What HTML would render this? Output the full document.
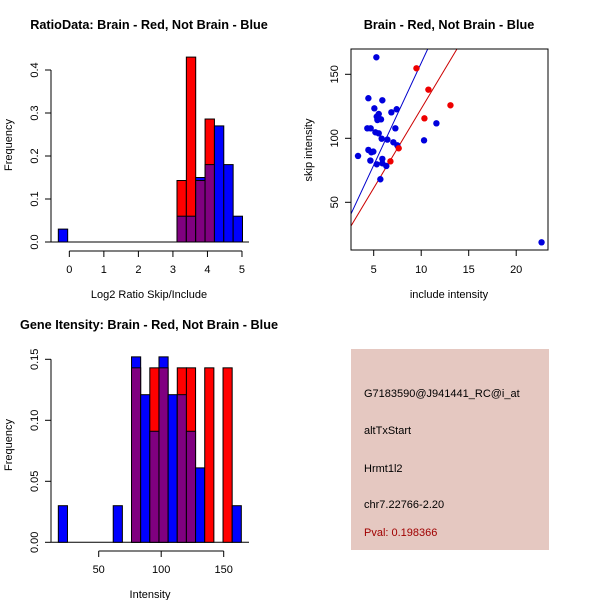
<!DOCTYPE html>
<html><head><meta charset="utf-8"><style>
html,body{margin:0;padding:0;background:#fff;}
svg{display:block;font-family:"Liberation Sans",sans-serif;}
</style></head><body>
<svg id="chart" width="600" height="600" viewBox="0 0 600 600" xmlns="http://www.w3.org/2000/svg">
<rect width="600" height="600" fill="#fff"/>
<text x="149" y="29" font-size="12.7" font-weight="bold" text-anchor="middle">RatioData: Brain - Red, Not Brain - Blue</text>
<text x="449" y="29" font-size="12.7" font-weight="bold" text-anchor="middle">Brain - Red, Not Brain - Blue</text>
<text x="149" y="329" font-size="12.7" font-weight="bold" text-anchor="middle">Gene Itensity: Brain - Red, Not Brain - Blue</text>
<g id="g1"></g>
<g id="g2"></g>
<g id="g3"></g>
<g font-size="11">
<rect x="351" y="349" width="198" height="201" fill="#e5c8c1"/>
<text x="364" y="397">G7183590@J941441_RC@i_at</text>
<text x="364" y="434">altTxStart</text>
<text x="364" y="472">Hrmt1l2</text>
<text x="364" y="508">chr7.22766-2.20</text>
<text x="364" y="536" fill="#a00000">Pval: 0.198366</text>
</g>
</svg>
<script>
// Ratio histogram data
const ratioBinStarts = [-0.319, 3.118, 3.389, 3.660, 3.931, 4.202, 4.473, 4.744];
const ratioBinWidth = 0.271;
const ratioBlue = [0.03, 0.06, 0.06, 0.15, 0.18, 0.27, 0.18, 0.06];
const ratioRed  = [0, 0.143, 0.43, 0.143, 0.286, 0, 0, 0];
const ratioXTicks = [0,1,2,3,4,5];
const ratioYTicks = [0.0,0.1,0.2,0.3,0.4];
// Scatter data
const blueX = [5.28,4.44,5.91,5.07,5.53,7.42,6.86,5.32,5.77,5.39,4.33,4.68,7.28,5.18,5.53,11.6,5.84,6.44,7.07,7.49,10.3,3.35,4.44,4.96,4.75,4.65,5.91,5.91,5.32,6.33,5.7,22.67];
const blueY = [163.3,131.3,129.7,123.4,119,122.7,120.3,116.9,114.8,114.3,107.8,107.8,107.8,104.7,103.9,111.7,99.7,99,96.9,94.5,98.4,86.2,90.9,89.6,89.1,82.6,83.9,80.5,79.7,78.4,68,18.75];
const redX = [9.5,10.76,13.08,10.34,7.63,6.76];
const redY = [154.7,138,125.8,115.6,92.2,82];
const blueSlope = 15.95, blueIntercept = -0.7;
const redSlope = 12.4, redIntercept = -0.9;
const scatterXTicks = [5,10,15,20];
const scatterYTicks = [50,100,150];
// Intensity histogram data
const intStart = 17.7, intBinWidth = 7.32;
const intBlue = [0.03,0,0,0,0,0,0.03,0,0.152,0.121,0.091,0.152,0.121,0.121,0.091,0.061,0,0,0,0.03];
const intRed  = [0,0,0,0,0,0,0,0,0.143,0,0.143,0.143,0,0.143,0.143,0,0.143,0,0.143,0];
const intXTicks = [50,100,150];
const intYTicks = ["0.00","0.05","0.10","0.15"];

const NS='http://www.w3.org/2000/svg';
function mk(parent, tag, attrs, text){
  const e=document.createElementNS(NS,tag);
  for(const k in attrs) e.setAttribute(k, attrs[k]);
  if(text!==undefined) e.textContent=text;
  parent.appendChild(e); return e;
}
function yLabel(g,x,y,t){
  const e=mk(g,'text',{x:x,y:y,'font-size':11,'text-anchor':'middle',transform:`rotate(-90 ${x} ${y})`},t);
  
  
}
function hist(g, starts, w, blue, red, sx, sy, y0){
  for(let i=0;i<starts.length;i++){
    const x0=sx(starts[i]), x1=sx(starts[i]+w);
    const b=blue[i], r=red[i];
    const mn=Math.min(b,r), mx=Math.max(b,r);
    if(mx<=0) continue;
    const col = b>=r ? '#0000ff' : '#ff0000';
    let e=mk(g,'rect',{x:x0,y:sy(mx),width:x1-x0,height:y0-sy(mx),fill:col,stroke:'#000','stroke-width':1});
    
    
    if(mn>0){
      e=mk(g,'rect',{x:x0,y:sy(mn),width:x1-x0,height:y0-sy(mn),fill:'#800080',stroke:'#000','stroke-width':1});
      
      
    }
  }
}
// Plot 1
(function(){
  const g=document.getElementById('g1');
  const sx=v=>69.33+v*34.53, y0=242, sy=v=>y0-v*430;
  mk(g,'line',{x1:51,y1:242,x2:249,y2:242,stroke:'#000'});
  hist(g, ratioBinStarts, ratioBinWidth, ratioBlue, ratioRed, sx, sy, y0);
  mk(g,'line',{x1:51,y1:sy(0),x2:51,y2:sy(0.4),stroke:'#000'});
  ratioYTicks.forEach(v=>{mk(g,'line',{x1:45,y1:sy(v),x2:51,y2:sy(v),stroke:'#000'});yLabel(g,38,sy(v),v.toFixed(1));});
  mk(g,'line',{x1:sx(0),y1:251,x2:sx(5),y2:251,stroke:'#000'});
  ratioXTicks.forEach(v=>{mk(g,'line',{x1:sx(v),y1:251,x2:sx(v),y2:257,stroke:'#000'});
    const t=mk(g,'text',{x:sx(v),y:273,'font-size':11,'text-anchor':'middle'},v);
    
    });
  const xt=mk(g,'text',{x:149,y:298,'font-size':11,'text-anchor':'middle'},'Log2 Ratio Skip/Include');
  
  
  yLabel(g,12,145,'Frequency');
})();
// Plot 2
(function(){
  const g=document.getElementById('g2');
  const sx=v=>373.7+(v-5)*9.5, sy=v=>74.3-(v-150)*1.28;
  const L=351,R=548,T=49,B=250;
  const defs=mk(g,'defs',{});
  const cp=mk(defs,'clipPath',{id:'clip2'});
  mk(cp,'rect',{x:L,y:T,width:R-L,height:B-T});
  const xmin=2.61,xmax=23.35;
  [[blueSlope,blueIntercept,'#0000cc','fit-line-blue'],[redSlope,redIntercept,'#cc0000','fit-line-red']].forEach(([a,b,c,n])=>{
    const l=mk(g,'line',{x1:sx(xmin),y1:sy(a*xmin+b),x2:sx(xmax),y2:sy(a*xmax+b),stroke:c,'stroke-width':1,'clip-path':'url(#clip2)'});
    
    
  });
  blueX.forEach((x,i)=>{const c=mk(g,'circle',{cx:sx(x),cy:sy(blueY[i]),r:3.2,fill:'#0000dd'});
    
    });
  redX.forEach((x,i)=>{const c=mk(g,'circle',{cx:sx(x),cy:sy(redY[i]),r:3.2,fill:'#ee0000'});
    
    });
  mk(g,'rect',{x:L,y:T,width:R-L,height:B-T,fill:'none',stroke:'#000'});
  scatterXTicks.forEach(v=>{mk(g,'line',{x1:sx(v),y1:B,x2:sx(v),y2:B+6,stroke:'#000'});
    const t=mk(g,'text',{x:sx(v),y:273,'font-size':11,'text-anchor':'middle'},v);
    
    });
  scatterYTicks.forEach(v=>{mk(g,'line',{x1:L-6,y1:sy(v),x2:L,y2:sy(v),stroke:'#000'});yLabel(g,338,sy(v),v);});
  const xt=mk(g,'text',{x:449,y:298,'font-size':11,'text-anchor':'middle'},'include intensity');
  
  
  yLabel(g,312,150,'skip intensity');
})();
// Plot 3
(function(){
  const g=document.getElementById('g3');
  const sx=v=>98.7+(v-50)*1.25, y0=542.3, sy=v=>y0-v*1220;
  mk(g,'line',{x1:51,y1:y0,x2:249,y2:y0,stroke:'#000'});
  const starts=intBlue.map((_,i)=>intStart+i*intBinWidth);
  hist(g, starts, intBinWidth, intBlue, intRed, sx, sy, y0);
  mk(g,'line',{x1:51,y1:sy(0),x2:51,y2:sy(0.15),stroke:'#000'});
  intYTicks.forEach(s=>{const v=parseFloat(s);mk(g,'line',{x1:45,y1:sy(v),x2:51,y2:sy(v),stroke:'#000'});yLabel(g,38,sy(v),s);});
  mk(g,'line',{x1:sx(50),y1:551,x2:sx(150),y2:551,stroke:'#000'});
  intXTicks.forEach(v=>{mk(g,'line',{x1:sx(v),y1:551,x2:sx(v),y2:557,stroke:'#000'});
    const t=mk(g,'text',{x:sx(v),y:573,'font-size':11,'text-anchor':'middle'},v);
    
    });
  const xt=mk(g,'text',{x:150,y:598,'font-size':11,'text-anchor':'middle'},'Intensity');
  
  
  yLabel(g,12,445,'Frequency');
})();
</script>
</body></html>
